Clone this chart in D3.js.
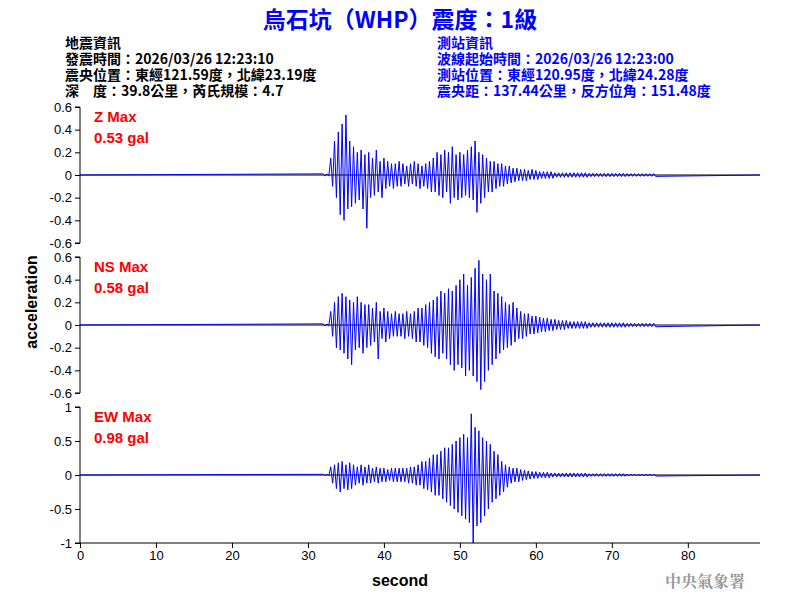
<!DOCTYPE html><html><head><meta charset="utf-8"><script src="https://cdn.jsdelivr.net/npm/d3@7"></script>
<style>body{margin:0;background:#fff}</style></head><body><svg id="c" width="800" height="600"></svg><script>
const t0=32, dt=0.5;
const zUp=[.01,.01,.15,.3,.38,.45,.53,.3,.25,.2,.22,.18,.2,.15,.22,.12,.15,.12,.1,.1,.12,.1,.08,.1,.12,.1,.08,.1,.12,.15,.2,.18,.22,.2,.25,.18,.2,.18,.22,.25,.3,.2,.18,.15,.12,.12,.1,.1,.08,.08,.06,.06,.05,.05,.04,.05,.04,.03,.03,.03,.03,.02,.02,.02,.02,.02,.02,.02,.02,.02,.015,.015,.015,.015,.015,.015,.015,.015,.015,.015,.012,.012,.012,.012,.012,.012,.012,.012];
const zDn=[-.01,-.01,-.1,-.2,-.35,-.4,-.3,-.28,-.25,-.22,-.3,-.47,-.2,-.18,-.15,-.2,-.12,-.1,-.12,-.1,-.1,-.08,-.1,-.08,-.1,-.12,-.1,-.12,-.15,-.15,-.18,-.2,-.15,-.25,-.2,-.22,-.2,-.18,-.2,-.22,-.33,-.25,-.2,-.15,-.15,-.12,-.1,-.1,-.08,-.07,-.06,-.05,-.05,-.05,-.04,-.04,-.04,-.03,-.03,-.03,-.03,-.02,-.02,-.02,-.02,-.02,-.02,-.02,-.02,-.02,-.015,-.015,-.015,-.015,-.015,-.015,-.015,-.015,-.015,-.015,-.012,-.012,-.012,-.012,-.012,-.012,-.012,-.012];
const nsUp=[.01,.01,.12,.2,.25,.28,.25,.22,.2,.25,.2,.18,.18,.15,.2,.12,.15,.12,.1,.12,.1,.1,.12,.1,.12,.15,.15,.18,.2,.22,.25,.3,.28,.32,.3,.35,.4,.45,.35,.42,.5,.57,.45,.4,.45,.3,.28,.25,.2,.18,.2,.15,.12,.1,.1,.08,.08,.07,.06,.06,.05,.05,.04,.04,.04,.03,.03,.03,.03,.03,.02,.02,.02,.02,.02,.02,.02,.02,.02,.02,.015,.015,.015,.015,.015,.015,.015,.015];
const nsDn=[-.01,-.01,-.1,-.2,-.22,-.25,-.3,-.35,-.22,-.2,-.25,-.2,-.18,-.15,-.3,-.12,-.15,-.12,-.1,-.1,-.1,-.12,-.1,-.12,-.15,-.15,-.18,-.2,-.25,-.28,-.3,-.25,-.3,-.35,-.4,-.35,-.38,-.45,-.4,-.45,-.5,-.57,-.5,-.4,-.35,-.3,-.25,-.22,-.2,-.18,-.15,-.12,-.12,-.1,-.08,-.08,-.07,-.06,-.06,-.05,-.05,-.04,-.04,-.04,-.03,-.03,-.03,-.03,-.03,-.03,-.02,-.02,-.02,-.02,-.02,-.02,-.02,-.02,-.02,-.02,-.015,-.015,-.015,-.015,-.015,-.015,-.015,-.015];
const ewUp=[.01,.01,.12,.15,.18,.2,.15,.18,.15,.12,.15,.12,.15,.1,.12,.1,.1,.08,.1,.1,.1,.1,.1,.12,.12,.15,.2,.2,.25,.3,.3,.35,.4,.4,.45,.5,.55,.6,.55,.9,.7,.65,.55,.5,.45,.35,.3,.2,.15,.12,.1,.1,.08,.07,.06,.05,.05,.04,.04,.04,.03,.03,.03,.03,.03,.03,.03,.03,.03,.03,.02,.02,.02,.02,.02,.02,.02,.02,.02,.02,.015,.015,.015,.015,.015,.015,.015,.015];
const ewDn=[-.01,-.01,-.12,-.2,-.25,-.2,-.22,-.2,-.15,-.12,-.15,-.12,-.12,-.1,-.12,-.1,-.1,-.08,-.1,-.1,-.1,-.1,-.12,-.12,-.15,-.15,-.2,-.22,-.25,-.3,-.3,-.35,-.4,-.45,-.5,-.55,-.6,-.65,-.7,-1,-.75,-.7,-.6,-.5,-.4,-.35,-.3,-.25,-.18,-.12,-.1,-.1,-.08,-.07,-.06,-.05,-.05,-.04,-.04,-.04,-.03,-.03,-.03,-.03,-.03,-.03,-.03,-.03,-.03,-.03,-.02,-.02,-.02,-.02,-.02,-.02,-.02,-.02,-.02,-.02,-.015,-.015,-.015,-.015,-.015,-.015,-.015,-.015];
const panels=[
 {name:"Z Max",pga:"0.53 gal",up:zUp,dn:zDn,dom:[-0.6,0.6],ticks:[0.6,0.4,0.2,0,-0.2,-0.4,-0.6],top:107},
 {name:"NS Max",pga:"0.58 gal",up:nsUp,dn:nsDn,dom:[-0.6,0.6],ticks:[0.6,0.4,0.2,0,-0.2,-0.4,-0.6],top:257},
 {name:"EW Max",pga:"0.98 gal",up:ewUp,dn:ewDn,dom:[-1,1],ticks:[1,0.5,0,-0.5,-1],top:407}];
const xTicks=[0,10,20,30,40,50,60,70,80];
const svg=d3.select("#c"),F="Arial, Liberation Sans, sans-serif";
const x=d3.scaleLinear().domain([0,89.5]).range([80,760]);
panels.forEach(p=>{
 const y=d3.scaleLinear().domain(p.dom).range([p.top+136,p.top]);
 const g=svg.append("g");
 g.append("g").attr("transform","translate(80,0)").call(d3.axisLeft(y).tickValues(p.ticks).tickSize(5).tickFormat(d=>String(d))).call(a=>{a.selectAll("text").attr("font-family",F).attr("font-size",13).attr("fill","#000");a.select(".domain").attr("d",`M-5,${p.top}H0V${p.top+136}H-5`);});
 g.append("line").attr("x1",x(0)).attr("x2",x(89.5)).attr("y1",y(0)).attr("y2",y(0)).attr("stroke","#000").attr("stroke-width",1);
 const pts=[[0,0]];
 p.up.forEach((u,i)=>{const t=t0+i*dt;pts.push([t,u]);pts.push([t+dt/2,p.dn[i]]);});
 pts.push([89.5,0]);
 g.append("path").attr("d",d3.line().x(d=>x(d[0])).y(d=>y(d[1]))(pts)).attr("fill","none").attr("stroke","#0000ff").attr("stroke-width",1);
 g.append("text").attr("x",94).attr("y",p.top+15).text(p.name).attr("fill","#ff0000").attr("font-family",F).attr("font-weight","bold").attr("font-size",15);
 g.append("text").attr("x",94).attr("y",p.top+36).text(p.pga).attr("fill","#ff0000").attr("font-family",F).attr("font-weight","bold").attr("font-size",15);
});
svg.append("g").attr("transform","translate(0,543)").call(d3.axisBottom(x).tickValues(xTicks).tickSize(5)).call(a=>{a.selectAll("text").attr("font-family",F).attr("font-size",13).attr("fill","#000");a.select(".domain").attr("d","M80,0H760");});
svg.append("text").attr("x",400).attr("y",586).attr("text-anchor","middle").text("second").attr("font-family",F).attr("font-weight","bold").attr("font-size",16);
svg.append("text").attr("transform","translate(37,302) rotate(-90)").attr("text-anchor","middle").text("acceleration").attr("font-family",F).attr("font-weight","bold").attr("font-size",16);
svg.append("text").attr("x",400).attr("y",28).attr("text-anchor","middle").text("烏石坑（WHP）震度：1級").attr("fill","#0000ff").attr("font-family","Noto Sans CJK TC, sans-serif").attr("font-weight","bold").attr("font-size",23);
const leftInfo=["地震資訊","發震時間：2026/03/26 12:23:10","震央位置：東經121.59度，北緯23.19度","深　度：39.8公里，芮氏規模：4.7"];
const rightInfo=["測站資訊","波線起始時間：2026/03/26 12:23:00","測站位置：東經120.95度，北緯24.28度","震央距：137.44公里，反方位角：151.48度"];
leftInfo.forEach((s,i)=>svg.append("text").attr("x",65).attr("y",48+i*16).text(s).attr("font-family","Noto Sans CJK TC, sans-serif").attr("font-weight","bold").attr("font-size",14));
rightInfo.forEach((s,i)=>svg.append("text").attr("x",437).attr("y",48+i*16).text(s).attr("fill","#0000ff").attr("font-family","Noto Sans CJK TC, sans-serif").attr("font-weight","bold").attr("font-size",14));
svg.append("text").attr("x",745).attr("y",587).attr("text-anchor","end").text("中央氣象署").attr("fill","#999").attr("font-family","Noto Serif CJK TC, serif").attr("font-weight","bold").attr("font-size",16);
</script></body></html>
